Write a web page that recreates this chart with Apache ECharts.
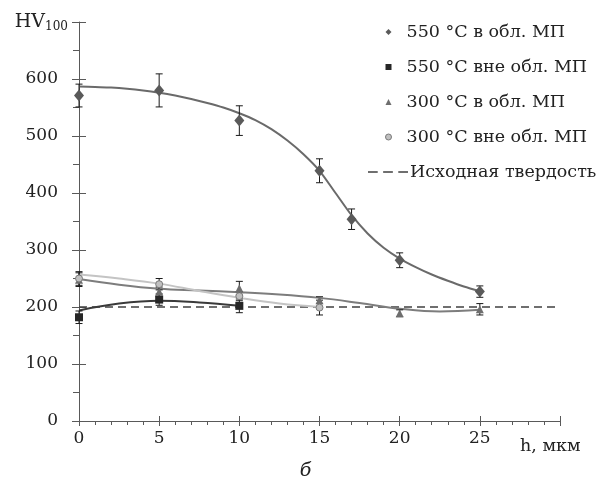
<!DOCTYPE html>
<html>
<head>
<meta charset="utf-8">
<script src="https://cdn.jsdelivr.net/npm/echarts@6/dist/echarts.min.js"></script>
<style>html,body{margin:0;padding:0;background:#fff}#c{width:611px;height:488px}</style>
</head>
<body>
<div id="c"></div>
<script>
// ---- data ----
const names = ['550 °C в обл. МП', '550 °C вне обл. МП', '300 °C в обл. МП', '300 °C вне обл. МП', 'Исходная твердость'];
// measured points [h, HV, error]
const s550in_x = [0, 5, 10, 15, 17, 20, 25];
const s550in_y = [571, 580, 527, 439, 354, 282, 227];
const s550in_e = [20, 29, 26, 21, 18, 13, 10];
const s550out_x = [0, 5, 10];
const s550out_y = [182, 213, 202];
const s550out_e = [11, 10, 12];
const s300in_x = [0, 5, 10, 15, 20, 25];
const s300in_y = [248, 227, 233, 212, 189, 196];
const s300in_e = [12, 8, 12, 6, 6, 10];
const s300out_x = [0, 5, 10, 15];
const s300out_y = [250, 240, 219, 199];
const s300out_e = [12, 10, 8, 13];
// trend curves
const fit550in_x = [0, 1, 2, 3, 4, 5, 6, 7, 8, 9, 10, 11, 12, 13, 14, 15, 16, 17, 18, 19, 20, 21, 22, 23, 24, 25];
const fit550in_y = [587, 586, 585, 583, 580, 576, 571, 565, 558, 550, 540, 528, 512, 492, 468, 439, 400, 361, 329, 304, 285, 270, 257, 246, 236, 228];
const fit550out_x = [0, 2.5, 5, 7.5, 10];
const fit550out_y = [194, 206, 211, 208, 202];
const fit300in_x = [0, 2.5, 5, 7.5, 10, 12.5, 15, 17.5, 20, 22.5, 25];
const fit300in_y = [249, 239, 232, 229, 226, 222, 216, 207, 197, 192, 195];
const fit300out_x = [0, 2.5, 5, 7.5, 10, 12.5, 15];
const fit300out_y = [257, 250, 241, 228, 216, 206, 200];
const baseHV = 200;
const xTicks = [0, 5, 10, 15, 20, 25, 30];
const yTicks = [0, 100, 200, 300, 400, 500, 600, 700];

const zip = (a, b) => a.map((v, i) => [v, b[i]]);
const zip3 = (a, b, c) => a.map((v, i) => [v, b[i], c[i]]);

const FONT = 'DejaVu Serif';
const chart = echarts.init(document.getElementById('c'), null, {renderer: 'canvas'});

function errBar(params, api) {
  const x = api.value(0), y = api.value(1), e = api.value(2);
  const top = api.coord([x, y + e]);
  const bot = api.coord([x, y - e]);
  const w = 3.5;
  const st = {stroke: '#1a1a1a', lineWidth: 1};
  return {type: 'group', children: [
    {type: 'line', shape: {x1: top[0], y1: top[1], x2: bot[0], y2: bot[1]}, style: st},
    {type: 'line', shape: {x1: top[0]-w, y1: top[1], x2: top[0]+w, y2: top[1]}, style: st},
    {type: 'line', shape: {x1: bot[0]-w, y1: bot[1], x2: bot[0]+w, y2: bot[1]}, style: st}
  ]};
}

const axisColor = '#595959';
const txt = '#222';
const xMin = xTicks[0], xMax = xTicks[xTicks.length-1];
const yMin = yTicks[0], yMax = yTicks[yTicks.length-1];

const option = {
  backgroundColor: '#fff',
  animation: false,
  title: {text: 'б', left: 'center', top: 457, textStyle: {fontFamily: FONT, fontStyle: 'italic', fontWeight: 'normal', fontSize: 19, color: txt}},
  grid: {left: 79, right: 51, top: 22, bottom: 67},
  legend: [{
    orient: 'vertical', left: 380, top: 17, itemGap: 15,
    itemWidth: 6, itemHeight: 6,
    data: [
      {name: names[0], icon: 'diamond', itemStyle: {color: '#5a5a5a'}},
      {name: names[1], icon: 'rect', itemStyle: {color: '#262626'}},
      {name: names[2], icon: 'triangle', itemStyle: {color: '#6e6e6e'}},
      {name: names[3], icon: 'circle', itemStyle: {color: '#c0c0c0', borderColor: '#7a7a7a', borderWidth: 1}}
    ],
    textStyle: {fontFamily: FONT, fontSize: 17.5, color: txt, lineHeight: 20, padding: [0, 0, 0, 10]}
  }, {
    orient: 'vertical', left: 363, top: 157, itemWidth: 40, itemHeight: 1.5,
    symbolKeepAspect: false,
    data: [{name: names[4], icon: 'path://M0,0h9v2h-9zM14,0h9v2h-9zM28,0h9v2h-9z', itemStyle: {color: '#404040'}}],
    textStyle: {fontFamily: FONT, fontSize: 17.5, color: txt, lineHeight: 20, padding: [0, 0, 0, -3]}
  }],
  xAxis: [{
    type: 'value', min: xMin, max: xMax, interval: 5,
    axisLine: {show: true, lineStyle: {color: axisColor, width: 1}},
    axisTick: {show: true, length: 5, lineStyle: {color: axisColor}},
    minorTick: {show: true, splitNumber: 5, length: 4, lineStyle: {color: axisColor}},
    splitLine: {show: false},
    axisLabel: {fontFamily: FONT, fontSize: 17, color: txt, margin: 9,
      formatter: v => (v === xMax ? '' : String(v))},
    name: 'h, мкм', nameLocation: 'end', nameGap: -40,
    nameTextStyle: {fontFamily: FONT, fontSize: 17.5, color: txt, align: 'left', verticalAlign: 'top', padding: [16, 0, 0, 0]}
  }, {
    type: 'value', min: xMin, max: xMax, interval: 5, position: 'bottom',
    axisLine: {show: false}, axisLabel: {show: false}, splitLine: {show: false},
    axisTick: {show: true, inside: true, length: 5, lineStyle: {color: axisColor}}
  }],
  yAxis: [{
    type: 'value', min: yMin, max: yMax, interval: 100,
    axisLine: {show: true, lineStyle: {color: axisColor, width: 1}},
    axisTick: {show: true, length: 7, lineStyle: {color: axisColor}},
    minorTick: {show: true, splitNumber: 2, length: 6, lineStyle: {color: axisColor}},
    splitLine: {show: false},
    axisLabel: {fontFamily: FONT, fontSize: 17, color: txt, margin: 21,
      formatter: v => (v === yMax ? '' : String(v))},
    name: 'HV{s|100}', nameLocation: 'end', nameGap: 0,
    nameTextStyle: {fontFamily: FONT, fontSize: 19, color: txt, align: 'right', verticalAlign: 'middle', padding: [0, 11, 0, 0],
      rich: {s: {fontFamily: FONT, fontSize: 12, color: txt, verticalAlign: 'bottom', padding: [9, 0, 0, 0]}}}
  }, {
    type: 'value', min: yMin, max: yMax, interval: 100, position: 'left',
    axisLine: {show: false}, axisLabel: {show: false}, splitLine: {show: false},
    axisTick: {show: true, inside: true, length: 7, lineStyle: {color: axisColor}}
  }],
  series: [
    {name: names[4], type: 'line', data: [[xMin, baseHV], [xMax, baseHV]], symbol: 'none',
     lineStyle: {color: '#404040', width: 1.3, type: [8, 5]}, itemStyle: {color: '#404040'}, z: 1},
    {name: 'fit1', type: 'line', smooth: 0.3, data: zip(fit550in_x, fit550in_y), symbol: 'none', lineStyle: {color: '#6a6a6a', width: 2}, z: 2},
    {name: 'fit2', type: 'line', smooth: 0.4, data: zip(fit550out_x, fit550out_y), symbol: 'none', lineStyle: {color: '#3a3a3a', width: 2}, z: 2},
    {name: 'fit3', type: 'line', smooth: 0.4, data: zip(fit300in_x, fit300in_y), symbol: 'none', lineStyle: {color: '#7d7d7d', width: 2}, z: 2},
    {name: 'fit4', type: 'line', smooth: 0.4, data: zip(fit300out_x, fit300out_y), symbol: 'none', lineStyle: {color: '#c4c4c4', width: 2}, z: 2},
    {name: 'e1', type: 'custom', renderItem: errBar, data: zip3(s550in_x, s550in_y, s550in_e), z: 4},
    {name: 'e2', type: 'custom', renderItem: errBar, data: zip3(s550out_x, s550out_y, s550out_e), z: 4},
    {name: 'e3', type: 'custom', renderItem: errBar, data: zip3(s300in_x, s300in_y, s300in_e), z: 4},
    {name: 'e4', type: 'custom', renderItem: errBar, data: zip3(s300out_x, s300out_y, s300out_e), z: 4},
    {name: names[0], type: 'scatter', symbol: 'diamond', symbolSize: [10, 12], data: zip(s550in_x, s550in_y), itemStyle: {color: '#5a5a5a', opacity: 1}, z: 5},
    {name: names[1], type: 'scatter', symbol: 'rect', symbolSize: 8, data: zip(s550out_x, s550out_y), itemStyle: {color: '#262626', opacity: 1}, z: 5},
    {name: names[2], type: 'scatter', symbol: 'triangle', symbolSize: 8, data: zip(s300in_x, s300in_y), itemStyle: {color: '#6e6e6e', opacity: 1}, z: 5},
    {name: names[3], type: 'scatter', symbol: 'circle', symbolSize: 7, data: zip(s300out_x, s300out_y), itemStyle: {color: '#c0c0c0', borderColor: '#7a7a7a', borderWidth: 1, opacity: 1}, z: 6}
  ]
};
chart.setOption(option);
</script>
</body>
</html>
